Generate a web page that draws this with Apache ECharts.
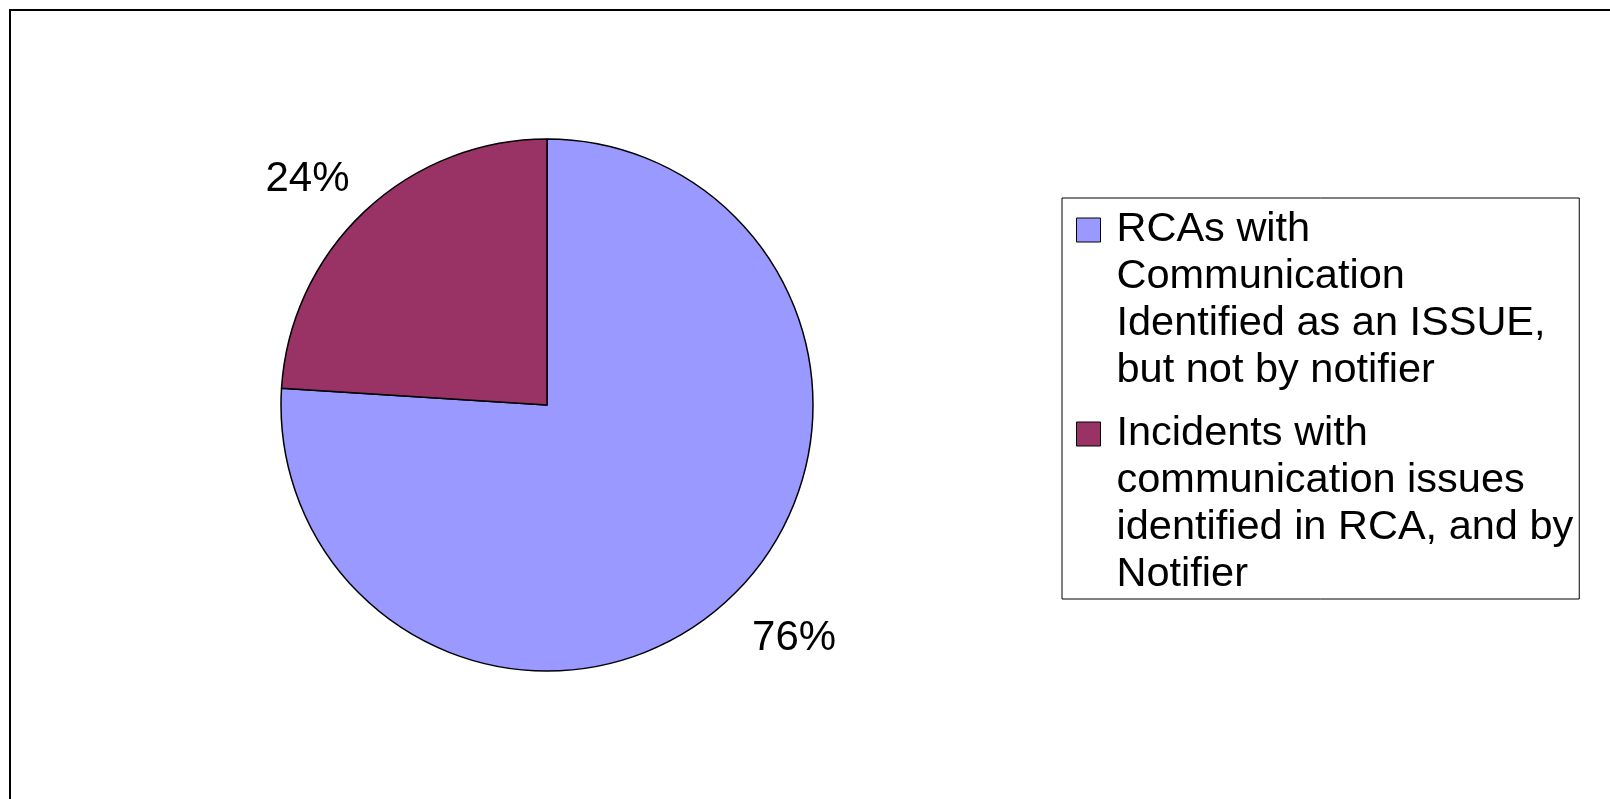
<!DOCTYPE html>
<html>
<head>
<meta charset="utf-8">
<script src="https://cdn.jsdelivr.net/npm/echarts@6/dist/echarts.min.js"></script>
<style>
  html, body { margin: 0; padding: 0; background: #fff; }
  #chart { width: 1610px; height: 799px; }
</style>
</head>
<body>
<div id="chart"></div>
<script>
// data
var categories = [
  'RCAs with Communication Identified as an ISSUE, but not by notifier',
  'Incidents with communication issues identified in RCA, and by Notifier'
];
var legendLines = [
  ['RCAs with', 'Communication', 'Identified as an ISSUE,', 'but not by notifier'],
  ['Incidents with', 'communication issues', 'identified in RCA, and by', 'Notifier']
];
var values = [76, 24];
var colors = ['#9999ff', '#993366'];
var labelLen = [54, 43]; // label distance from the rim, per slice

var myChart = echarts.init(document.getElementById('chart'), null, { renderer: 'canvas' });

var option = {
  animation: false,
  backgroundColor: '#fff',
  color: colors,
  textStyle: { fontFamily: 'Liberation Sans' },
  graphic: [{
    type: 'rect',
    shape: { x: 10, y: 10, width: 1700, height: 900 },
    style: { fill: 'none', stroke: '#000', lineWidth: 2 },
    silent: true
  }],
  legend: {
    orient: 'vertical',
    left: 1062,
    top: 198,
    padding: [8, 6, 0, 14],
    itemGap: 15,
    itemWidth: 35,
    itemHeight: 188,
    // square at the top of a tall box so it lines up with the first text line
    icon: 'path://M0,0M35,188M0,11.5h24v24h-24z',
    borderColor: '#000',
    borderWidth: 1,
    itemStyle: { borderColor: '#000', borderWidth: 1 },
    textStyle: {
      fontFamily: 'Liberation Sans',
      fontSize: 41.5,
      lineHeight: 47,
      color: '#000'
    },
    formatter: function (name) {
      return legendLines[categories.indexOf(name)].join('\n');
    },
    data: categories
  },
  series: [{
    type: 'pie',
    center: [547, 405],
    radius: 266,
    startAngle: 90,
    clockwise: true,
    silent: true,
    avoidLabelOverlap: false,
    itemStyle: { borderColor: '#000', borderWidth: 1.5 },
    label: {
      show: true,
      position: 'outside',
      formatter: '{c}%',
      fontFamily: 'Liberation Sans',
      fontSize: 42,
      color: '#000',
      distanceToLabelLine: -14
    },
    labelLine: { show: false, length: 48, length2: 0 },
    data: categories.map(function (c, i) {
      return {
        name: c,
        value: values[i],
        labelLine: { show: false, length: labelLen[i], length2: 0 }
      };
    })
  }]
};

option && myChart.setOption(option);
</script>
</body>
</html>
